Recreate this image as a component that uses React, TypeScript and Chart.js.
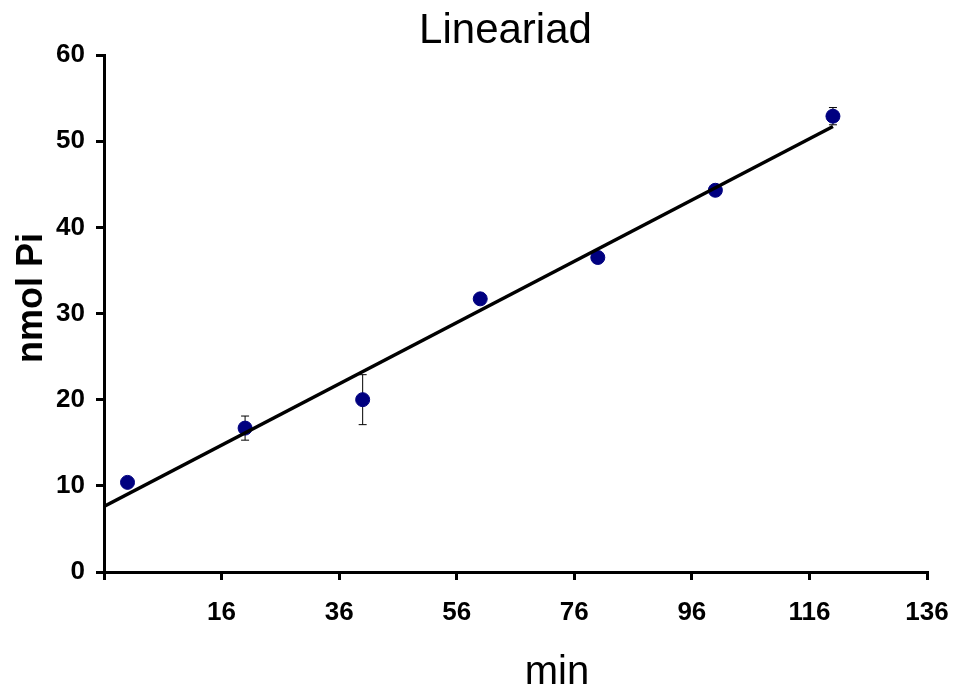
import React, { useEffect, useRef } from "react";
import { Chart, registerables } from "chart.js";

Chart.register(...registerables);

const xValues = [0, 20, 40, 60, 80, 100, 120];
const yValues = [10.4, 16.7, 20.0, 31.7, 36.5, 44.3, 52.9];
const yErrors = [0.4, 1.4, 2.9, 0.4, 0.5, 0.4, 1.0];
const trendX = [-4, 120];
const trendY = [7.6, 51.7];
const xTickValues = [-4, 16, 36, 56, 76, 96, 116, 136];
const hiddenXTickLabels = [-4];
const chartTitle = "Lineariad";
const xTitle = "min";
const yTitle = "nmol Pi";

const FONT = '"Liberation Sans", Arial, Helvetica, sans-serif';

const errorBarPlugin = {
  id: "errorBars",
  beforeDatasetsDraw(chart: any) {
    const ctx = chart.ctx;
    const xs = chart.scales.x;
    const ys = chart.scales.y;
    ctx.save();
    ctx.strokeStyle = "#000000";
    ctx.lineWidth = 1;
    xValues.forEach((xv, i) => {
      const px = xs.getPixelForValue(xv);
      const top = ys.getPixelForValue(yValues[i] + yErrors[i]);
      const bot = ys.getPixelForValue(yValues[i] - yErrors[i]);
      ctx.beginPath();
      ctx.moveTo(px, top);
      ctx.lineTo(px, bot);
      ctx.moveTo(px - 4, top);
      ctx.lineTo(px + 4, top);
      ctx.moveTo(px - 4, bot);
      ctx.lineTo(px + 4, bot);
      ctx.stroke();
    });
    ctx.restore();
  },
};

const textPlugin = {
  id: "texts",
  afterDraw(chart: any) {
    const ctx = chart.ctx;
    ctx.save();
    ctx.fillStyle = "#000000";
    ctx.textAlign = "center";
    ctx.textBaseline = "alphabetic";
    ctx.font = `normal 42px ${FONT}`;
    ctx.fillText(chartTitle, 505.5, 43);
    ctx.font = `normal 40px ${FONT}`;
    ctx.fillText(xTitle, 557, 684);
    ctx.translate(42, 298);
    ctx.rotate(-Math.PI / 2);
    ctx.font = `bold 36px ${FONT}`;
    ctx.fillText(yTitle, 0, 0);
    ctx.restore();
  },
};

export default function App() {
  const ref = useRef<HTMLCanvasElement | null>(null);

  useEffect(() => {
    if (!ref.current) return;
    const chart = new Chart(ref.current, {
      type: "scatter",
      data: {
        datasets: [
          {
            label: "Linear",
            type: "line",
            data: trendX.map((x, i) => ({ x, y: trendY[i] })),
            borderColor: "#000000",
            borderWidth: 3.5,
            pointRadius: 0,
            fill: false,
            order: 0,
          } as any,
          {
            label: "Data",
            data: xValues.map((x, i) => ({ x, y: yValues[i] })),
            backgroundColor: "#000080",
            borderColor: "#000080",
            pointRadius: 7,
            pointHoverRadius: 7,
            order: 1,
          },
        ],
      },
      options: {
        responsive: false,
        animation: false,
        devicePixelRatio: 1,
        layout: { padding: { top: 55, right: 26, bottom: 0, left: 0 } },
        plugins: {
          legend: { display: false },
          title: { display: false },
          tooltip: { enabled: false },
        },
        scales: {
          x: {
            type: "linear",
            min: -4,
            max: 136,
            afterFit(scale: any) {
              scale.height = 116;
              scale.paddingLeft = 0;
              scale.paddingRight = 0;
            },
            afterBuildTicks(scale: any) {
              scale.ticks = xTickValues.map((v) => ({ value: v }));
            },
            ticks: {
              autoSkip: false,
              maxRotation: 0,
              padding: 17,
              color: "#000000",
              font: { family: FONT, size: 26, weight: "bold" },
              callback: (v: any) => (hiddenXTickLabels.includes(Number(v)) ? "" : String(v)),
            },
            grid: {
              drawOnChartArea: false,
              drawTicks: true,
              tickLength: 8,
              lineWidth: 3,
              color: "#000000",
            },
            border: { display: true, color: "#000000", width: 3 },
          },
          y: {
            type: "linear",
            min: 0,
            max: 60,
            afterFit(scale: any) {
              scale.width = 104;
              scale.paddingTop = 0;
              scale.paddingBottom = 0;
            },
            ticks: {
              stepSize: 10,
              padding: 11,
              color: "#000000",
              font: { family: FONT, size: 26, weight: "bold" },
            },
            grid: {
              drawOnChartArea: false,
              drawTicks: true,
              tickLength: 8,
              lineWidth: 3,
              color: "#000000",
            },
            border: { display: true, color: "#000000", width: 3 },
          },
        },
      },
      plugins: [errorBarPlugin, textPlugin],
    });
    return () => chart.destroy();
  }, []);

  return (
    <div style={{ position: "fixed", left: 0, top: 0, width: 953, height: 688, background: "#ffffff" }}>
      <canvas ref={ref} width={953} height={688} style={{ width: 953, height: 688, display: "block" }} />
    </div>
  );
}
